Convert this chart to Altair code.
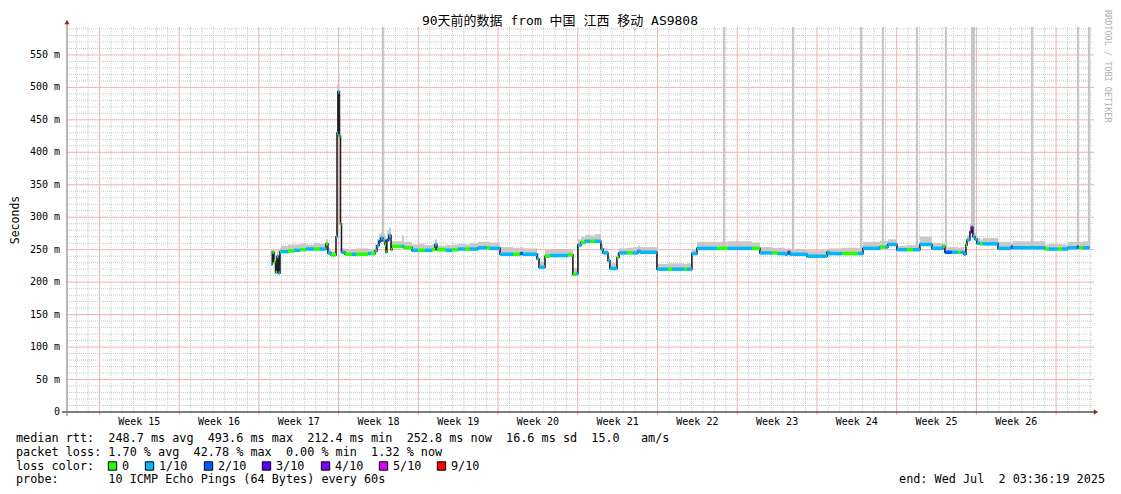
import altair as alt
import pandas as pd

# ---------------- values ----------------
# x = days since Thu Apr 3 03:36:19 2025 (90-day window ending Wed Jul 2 03:36:19 2025)
X_DAYS = 90
Y_TOP = 593                 # ms at top edge of plot
FIRST_MIDNIGHT = 0.8498     # Fri Apr 4 00:00
FIRST_SUNDAY = 2.8498       # Sun Apr 6 00:00

seg_day = [17.91, 18.04, 18.17, 18.31, 18.44, 18.57, 18.70, 18.79, 19.40, 19.93,
           20.46, 20.98, 21.69, 22.21, 22.74, 22.91, 23.18, 23.62, 23.71, 23.79,
           23.92, 24.01, 24.10, 24.41, 25.02, 25.37, 26.43, 26.69, 27.04, 27.22,
           27.39, 27.57, 27.74, 27.92, 28.01, 28.09, 28.27, 28.45, 28.53, 29.41,
           29.59, 30.29, 30.82, 31.43, 32.05, 32.31, 32.48, 33.27, 33.80, 34.33,
           34.94, 35.38, 36.08, 36.87, 37.14, 38.02, 39.16, 39.77, 40.04, 41.26,
           41.44, 41.97, 42.41, 43.99, 44.42, 44.69, 44.86, 45.13, 45.48, 45.92,
           46.36, 46.88, 47.06, 47.50, 47.67, 48.29, 48.46, 49.17, 49.69, 50.13,
           50.31, 51.80, 52.77, 53.12, 54.17, 54.43, 54.87, 55.31, 57.07, 58.03,
           60.14, 60.84, 61.90, 62.42, 63.04, 63.30, 63.48, 64.97, 66.73, 66.90,
           68.04, 69.45, 69.89, 71.38, 71.82, 72.08, 72.87, 73.75, 74.28, 74.89,
           75.94, 76.91, 77.08, 77.70, 78.22, 78.48, 78.75, 78.93, 79.02, 79.28,
           79.41, 79.54, 79.72, 79.89, 80.16, 80.42, 81.74, 82.88, 83.06, 85.87,
           86.22, 87.00, 87.36, 87.88, 88.67, 88.85, 89.20]
seg_end_day = 89.81

seg_ms = [228, 246, 232, 215, 240, 214, 247, 247, 248, 249,
          250, 251, 251, 251, 259, 245, 242, 270, 430, 493,
          425, 290, 246, 243, 243, 243, 244, 244, 248, 256,
          263, 268, 264, 258, 246, 265, 272, 250, 255, 255,
          253, 249, 249, 249, 250, 258, 250, 249, 250, 251,
          251, 251, 253, 253, 252, 243, 243, 244, 243, 236,
          223, 240, 241, 242, 212, 213, 257, 261, 263, 263,
          263, 251, 245, 233, 221, 238, 245, 245, 245, 248,
          246, 220, 220, 220, 220, 220, 244, 252, 252, 252,
          252, 245, 245, 244, 243, 246, 243, 240, 246, 244,
          244, 244, 252, 254, 254, 258, 250, 250, 250, 258,
          252, 255, 246, 246, 246, 246, 243, 257, 265, 277,
          284, 270, 266, 260, 259, 259, 252, 254, 253, 251,
          251, 251, 251, 253, 254, 253, 253]

# loss level index: 0 -> "0", 1 -> "1/10", 2 -> "2/10", 3 -> "3/10", 4 -> "4/10"
seg_loss = [1, 0, 0, 0, 1, 1, 0, 1, 0, 1,
            0, 1, 0, 1, 0, 1, 0, 1, 1, 1,
            0, 0, 1, 0, 1, 0, 1, 0, 1, 1,
            2, 1, 1, 0, 0, 2, 1, 0, 0, 1,
            0, 1, 0, 1, 0, 1, 0, 1, 0, 1,
            0, 1, 1, 0, 1, 1, 0, 2, 1, 1,
            1, 0, 1, 0, 0, 1, 1, 0, 1, 0,
            1, 1, 1, 1, 1, 0, 1, 0, 1, 1,
            1, 1, 0, 1, 0, 1, 1, 1, 0, 1,
            0, 1, 0, 1, 1, 2, 1, 1, 1, 1,
            0, 1, 1, 0, 1, 1, 1, 0, 1, 1,
            1, 0, 2, 1, 0, 1, 1, 0, 1, 3,
            4, 1, 1, 1, 0, 1, 1, 2, 1, 0,
            1, 0, 1, 1, 2, 0, 1]

seg_smoke_top = [250, 250, 249, 240, 250, 238, 253, 256, 258, 258,
                 259, 258, 260, 259, 266, 252, 248, 290, 505, 520,
                 455, 300, 252, 250, 251, 252, 251, 250, 258, 266,
                 275, 277, 274, 270, 262, 280, 284, 262, 263, 272,
                 262, 258, 259, 257, 258, 266, 256, 257, 258, 259,
                 258, 260, 262, 262, 261, 254, 253, 254, 252, 245,
                 232, 250, 251, 250, 222, 222, 266, 270, 273, 272,
                 274, 258, 252, 240, 229, 245, 252, 253, 254, 256,
                 254, 228, 229, 229, 228, 229, 250, 262, 262, 263,
                 261, 254, 253, 253, 251, 252, 251, 249, 250, 252,
                 253, 252, 262, 264, 264, 266, 256, 257, 257, 270,
                 260, 260, 254, 254, 253, 254, 250, 262, 272, 290,
                 295, 280, 276, 268, 266, 268, 262, 260, 263, 258,
                 259, 259, 258, 262, 268, 262, 263]

# smoke samples that run off the top of the graph
spike_day = [27.74, 57.68, 63.74, 69.71, 71.64, 74.63, 77.17, 79.46, 79.63, 84.72, 88.76, 89.73]
spike_base = [264, 252, 243, 244, 254, 250, 246, 284, 270, 253, 254, 253]

loss_labels = ["0", "1/10", "2/10", "3/10", "4/10", "5/10", "9/10"]
loss_colors = ["#26ff00", "#00b8ff", "#0059ff", "#5e00ff", "#7e00ff", "#dd00ff", "#ff0000"]

week_numbers = list(range(15, 27))
y_ticks = list(range(0, 551, 50))

median_avg, median_max, median_min, median_now, median_sd, am_s = 248.7, 493.6, 212.4, 252.8, 16.6, 15.0
loss_avg, loss_max, loss_min, loss_now = 1.70, 42.78, 0.00, 1.32
probe_text = "10 ICMP Echo Pings (64 Bytes) every 60s"
end_text = "end: Wed Jul  2 03:36:19 2025"
title_text = "90天前的数据 from 中国 江西 移动 AS9808"
side_text = "RRDTOOL / TOBI OETIKER"

# ---------------- layout ----------------
W, H = 1025, 385
PAD_L, PAD_T = 59, 19
OX, OY = 8 + PAD_L, 8 + PAD_T      # page position of the plot origin
MONO = "DejaVu Sans Mono"
NB = "\u00a0"
LEG_FS = 11.8
MINOR_GRID = "#c8c8c8"
MAJOR_GRID = "#f2b0b0"


def nb(s):
    return s.replace(" ", NB)


# ---------------- tables ----------------
seg_end = seg_day[1:] + [seg_end_day]
seg_df = pd.DataFrame({
    "start": seg_day, "end": seg_end, "ms": seg_ms,
    "smoke": seg_smoke_top, "loss": [loss_labels[i] for i in seg_loss],
})
line_df = pd.DataFrame({"day": seg_day + [seg_end_day], "ms": seg_ms + [seg_ms[-1]]})
spike_df = pd.DataFrame({"day": spike_day, "ms": spike_base})

minor_h = pd.DataFrame({"hv": [v for v in range(10, Y_TOP, 10) if v % 50]})
major_h = pd.DataFrame({"mv": list(range(50, 551, 50))})
day_lines = [FIRST_MIDNIGHT + k for k in range(X_DAYS) if FIRST_MIDNIGHT + k < X_DAYS]
week_lines = [FIRST_SUNDAY + 7 * i for i in range(20) if FIRST_SUNDAY + 7 * i < X_DAYS]
minor_v = pd.DataFrame({"dd": [d for d in day_lines if min(abs(d - w) for w in week_lines) > 0.01]})
major_v = pd.DataFrame({"wd": week_lines})
week_df = pd.DataFrame({
    "mid": [FIRST_SUNDAY + 3.5 + 7 * i for i in range(len(week_numbers))],
    "lbl": [nb(f"Week {n}") for n in week_numbers],
})
ytick_df = pd.DataFrame({
    "tv": y_ticks,
    "lbl": [nb("0  ") if v == 0 else nb(f"{v} m") for v in y_ticks],
})

xs = alt.Scale(domain=[0, X_DAYS], nice=False, zero=False)
ys = alt.Scale(domain=[0, Y_TOP], nice=False, zero=True)

smoke = alt.Chart(seg_df).mark_rect(color="#c9c9c9").encode(
    x=alt.X("start:Q", scale=xs, axis=None), x2="end:Q",
    y=alt.Y("ms:Q", scale=ys, axis=None), y2="smoke:Q",
)
spikes = alt.Chart(spike_df).mark_rule(color="#c4c4c4", strokeWidth=2).encode(
    x=alt.X("day:Q", axis=None), y=alt.Y("ms:Q", axis=None), y2=alt.value(0),
)
g_minor_h = alt.Chart(minor_h).mark_rule(stroke=MINOR_GRID, strokeDash=[1, 1], strokeWidth=1).encode(
    y=alt.Y("hv:Q", axis=None), x=alt.value(0), x2=alt.value(W))
g_minor_v = alt.Chart(minor_v).mark_rule(stroke=MINOR_GRID, strokeDash=[1, 1], strokeWidth=1).encode(
    x=alt.X("dd:Q", axis=None), y=alt.value(0), y2=alt.value(H))
g_major_h = alt.Chart(major_h).mark_rule(stroke=MAJOR_GRID, strokeWidth=1, opacity=1).encode(
    y=alt.Y("mv:Q", axis=None), x=alt.value(0), x2=alt.value(W + 2))
g_major_v = alt.Chart(major_v).mark_rule(stroke=MAJOR_GRID, strokeWidth=1, opacity=1).encode(
    x=alt.X("wd:Q", axis=None), y=alt.value(0), y2=alt.value(H + 3))

median_line = alt.Chart(line_df).mark_line(interpolate="step-after", color="#202020", strokeWidth=1.6).encode(
    x=alt.X("day:Q", axis=None), y=alt.Y("ms:Q", axis=None))
loss_band = alt.Chart(seg_df).mark_rule(strokeWidth=3.5, strokeCap="butt").encode(
    x=alt.X("start:Q", axis=None), x2="end:Q", y=alt.Y("ms:Q", axis=None),
    color=alt.Color("loss:N", scale=alt.Scale(domain=loss_labels, range=loss_colors), legend=None),
)

# axis labels drawn through the shared scales
ylabels = alt.Chart(ytick_df).mark_text(
    align="right", baseline="middle", font=MONO, fontSize=10, color="#000000").encode(
    y=alt.Y("tv:Q", axis=None), x=alt.value(-7), text="lbl:N")
xlabels = alt.Chart(week_df).mark_text(
    align="center", baseline="middle", font=MONO, fontSize=10, color="#000000").encode(
    x=alt.X("mid:Q", axis=None), y=alt.value(H + 10), text="lbl:N")

one = pd.DataFrame({"k": [0]})
x_line = alt.Chart(one).mark_rule(color="#000000", strokeWidth=1).encode(
    x=alt.value(-5), x2=alt.value(W + 3), y=alt.value(H))
y_line = alt.Chart(one).mark_rule(color="#777777", strokeWidth=1).encode(
    x=alt.value(0), y=alt.value(-4), y2=alt.value(H + 4))
arrow_up = alt.Chart(one).mark_point(shape="triangle-up", filled=True, size=26, color="#9b2020", opacity=1).encode(
    x=alt.value(0), y=alt.value(-5))
arrow_right = alt.Chart(one).mark_point(shape="triangle-right", filled=True, size=26, color="#9b2020", opacity=1).encode(
    x=alt.value(W + 4), y=alt.value(H))

# ---------------- legend / annotation text ----------------
line1 = nb(f"median rtt:  {median_avg:.1f} ms avg  {median_max:.1f} ms max  {median_min:.1f} ms min  "
           f"{median_now:.1f} ms now  {median_sd:.1f} ms sd  {am_s:.1f}   am/s")
line2 = nb(f"packet loss: {loss_avg:.2f} % avg  {loss_max:.2f} % max  {loss_min:.2f} % min  {loss_now:.2f} % now")
line3 = nb("loss color:")
line4 = nb(f"probe:       {probe_text}")

LINE_Y = [438, 452, 466, 479]          # page y of the four legend rows
swatch_px = [108, 145, 204, 262, 321, 379, 437]
left_txt = pd.DataFrame({
    "px": [16 - OX] * 4 + [x + 14 - OX for x in swatch_px],
    "py": [y - OY for y in LINE_Y] + [LINE_Y[2] - OY] * len(swatch_px),
    "t": [line1, line2, line3, line4] + loss_labels,
})
legend_txt = alt.Chart(left_txt).mark_text(
    align="left", baseline="middle", font=MONO, fontSize=LEG_FS, color="#000000").encode(
    x=alt.X("px:Q", scale=None, axis=None), y=alt.Y("py:Q", scale=None, axis=None), text="t:N")

sw_df = pd.DataFrame({"sx": [x + 4.5 - OX for x in swatch_px],
                      "sy": [LINE_Y[2] - OY] * 7, "c": loss_colors})
swatches = alt.Chart(sw_df).mark_square(size=70, stroke="#000000", strokeWidth=1, opacity=1, filled=True).encode(
    x=alt.X("sx:Q", scale=None, axis=None), y=alt.Y("sy:Q", scale=None, axis=None),
    fill=alt.Fill("c:N", scale=None))

end_lbl = alt.Chart(one).mark_text(
    align="right", baseline="middle", font=MONO, fontSize=LEG_FS, color="#000000", text=nb(end_text)).encode(
    x=alt.value(1105 - OX), y=alt.value(LINE_Y[3] - OY))
title = alt.Chart(one).mark_text(
    align="center", baseline="middle", font=f"{MONO}, Noto Sans CJK SC", fontSize=13, color="#000000",
    text=title_text).encode(x=alt.value(560 - OX), y=alt.value(21 - OY))
ytitle = alt.Chart(one).mark_text(
    align="center", baseline="middle", font=MONO, fontSize=11.5, color="#000000", angle=270,
    text="Seconds").encode(x=alt.value(15.5 - OX), y=alt.value(220 - OY))
side = alt.Chart(one).mark_text(
    align="left", baseline="middle", font=MONO, fontSize=8.5, color="#b0b0b0", angle=90,
    text=side_text).encode(x=alt.value(1108 - OX), y=alt.value(10 - OY))

chart = alt.layer(
    smoke, spikes, g_minor_h, g_minor_v, g_major_h, g_major_v,
    median_line, loss_band, x_line, y_line, arrow_up, arrow_right,
    ylabels, xlabels, legend_txt, swatches, end_lbl, title, ytitle, side,
).properties(
    width=W, height=H,
    autosize=alt.AutoSizeParams(type="none"),
    padding={"left": PAD_L, "top": PAD_T, "right": 21, "bottom": 74},
    background="#ffffff",
).configure_view(stroke=None)

chart.save("out.html", embed_options={"renderer": "svg", "actions": False})
